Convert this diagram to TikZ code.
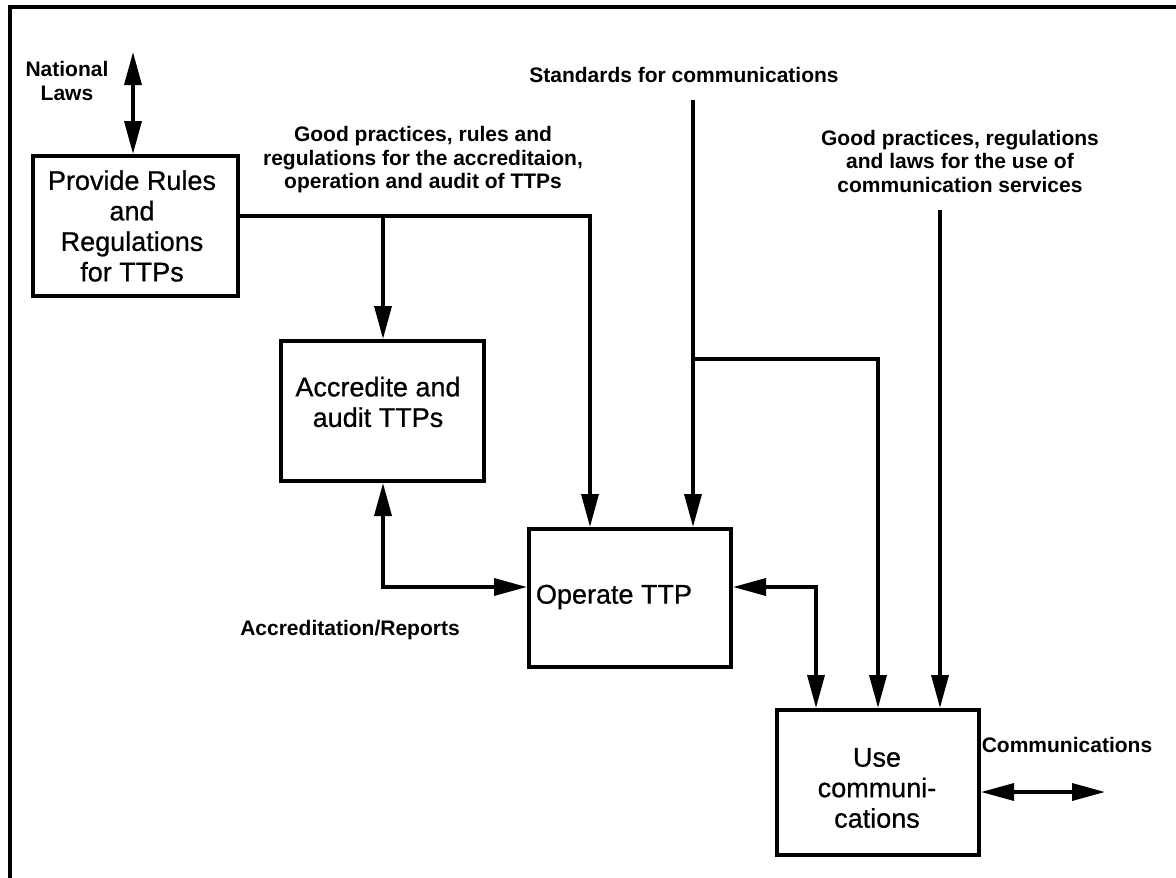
\documentclass[tikz,border=0pt]{standalone}
\usepackage{fontspec}
\setmainfont{Liberation Sans}
\newfontfamily\boxfont[FakeBold=0.7]{Liberation Sans}
\usetikzlibrary{arrows.meta}
\begin{document}
\begin{tikzpicture}[x=1pt,y=-1pt,
  box/.style={draw, line width=4pt, inner sep=0pt},
  boxtext/.style={align=center, inner sep=0pt, font=\boxfont\fontsize{27}{30.5}\selectfont},
  lbl/.style={align=center, inner sep=0pt, font=\bfseries\fontsize{21}{23.5}\selectfont},
  conn/.style={line width=3.5pt},
  >={Triangle[length=33pt,width=17pt]}]
\useasboundingbox (0,0) rectangle (1176,878);

% outer frame (left and top edges)
\draw[line width=4.5pt] (10,878) -- (10,7) -- (1176,7);

% activity boxes
\node[box, minimum width=205pt, minimum height=140pt] (rules) at (135.5,226) {};
\node[box, minimum width=203pt, minimum height=140pt] (acc) at (382.5,411) {};
\node[box, minimum width=202pt, minimum height=138pt] (op) at (630,598) {};
\node[box, minimum width=202pt, minimum height=145pt] (use) at (878,782.5) {};

% box texts
\node[boxtext] (rulesT) at (132,226) {Provide Rules\\and\\Regulations\\for TTPs};
\node[boxtext] (accT) at (378,402) {Accredite and\\audit TTPs};
\node[boxtext] (opT) at (614,597) {Operate TTP};
\node[boxtext] (useT) at (877,788) {Use\\communi-\\cations};

% flow labels
\node[lbl] (natL) at (67,81) {National\\Laws};
\node[lbl] (gpL) at (423,160) {Good practices, rules and\\regulations for the accreditaion,\\operation and audit of TTPs};
\node[lbl] (stdL) at (684,75) {Standards for communications};
\node[lbl] (gp2L) at (960,161) {Good practices, regulations\\and laws for the use of\\communication services};
\node[lbl] (accrL) at (350,630) {Accreditation/Reports};
\node[lbl] (commL) at (1067,745) {Communications};

% junctions and free ends
\coordinate (natTop) at (133,52);
\coordinate (rj1) at (383,216);
\coordinate (rj2) at (590,216);
\coordinate (sTop) at (693,100);
\coordinate (sj1) at (693,359);
\coordinate (sj2) at (878,359);
\coordinate (gTop) at (940,210);
\coordinate (oc) at (816,587);
\coordinate (ac) at (383,587);
\coordinate (cEnd) at (1105,792);

% connectors
\draw[conn,<->] (natTop) -- (natTop |- rules.north);
\draw[conn,->] (rj1 -| rules.east) -- (rj2) -- (rj2 |- op.north);
\draw[conn,->] (rj1) -- (rj1 |- acc.north);
\draw[conn,<->] (acc.south -| ac) -- (ac) -- (ac -| op.west);
\draw[conn,->] (sTop) -- (sTop |- op.north);
\draw[conn,->] (sj1) -- (sj2) -- (sj2 |- use.north);
\draw[conn,->] (gTop) -- (gTop |- use.north);
\draw[conn,<->] (oc -| op.east) -- (oc) -- (oc |- use.north);
\draw[conn,<->] (cEnd -| use.east) -- (cEnd);
\end{tikzpicture}
\end{document}
